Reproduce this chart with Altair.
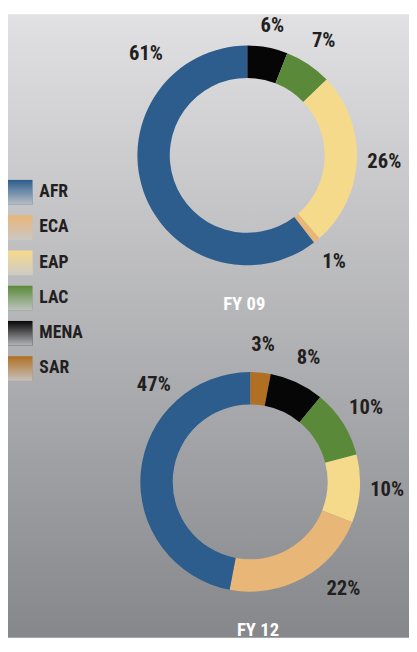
import math
import altair as alt
import pandas as pd

# ---- data ----
categories = ["AFR", "ECA", "EAP", "LAC", "MENA", "SAR"]
colors = ["#2c5d8c", "#e8b677", "#f6da8b", "#5a8a39", "#060606", "#b06f22"]
fy09_values = [61, 1, 26, 7, 6, 0]
fy12_values = [47, 22, 10, 10, 8, 3]
years = ["FY 09", "FY 12"]

# ---- layout ----
W, H = 409, 636
OUTER, INNER = 112, 79
LABEL_R = 140
CENTERS = {"FY 09": (244, 144), "FY 12": (247, 477)}
TITLE_POS = {"FY 09": (241, 296), "FY 12": (255, 628)}
# label placements that differ from the slice middle: (angle in degrees, radius)
LABEL_ADJUST = {
    ("FY 09", "AFR"): (315, 146),
    ("FY 09", "MENA"): (11, 134),
    ("FY 12", "AFR"): (315, 139),
    ("FY 12", "ECA"): (139, 145),
}
FONT = "Roboto Condensed, DejaVu Sans Condensed, sans-serif"

# slice order clockwise from 12 o'clock: SAR, MENA, LAC, EAP, ECA, AFR
order_key = {c: len(categories) - 1 - i for i, c in enumerate(categories)}


def frame(yr, values):
    df = pd.DataFrame({"cat": categories, "value": values})
    df["ord"] = df["cat"].map(order_key)
    df = df.sort_values("ord").reset_index(drop=True)
    total = df["value"].sum()
    cum = df["value"].cumsum() - df["value"] / 2
    df["ang"] = cum / total * 360
    df["r"] = LABEL_R
    for i, c in enumerate(df["cat"]):
        if (yr, c) in LABEL_ADJUST:
            a, r = LABEL_ADJUST[(yr, c)]
            df.loc[i, "ang"] = a
            df.loc[i, "r"] = r
    df["lab"] = df["value"].astype(str) + "%"
    return df


bg = alt.Chart(pd.DataFrame({"a": [0]})).mark_rect(
    fill=alt.Gradient(
        gradient="linear",
        stops=[
            alt.GradientStop(offset=0, color="#e1e1e3"),
            alt.GradientStop(offset=1, color="#86878b"),
        ],
        x1=0, x2=0, y1=0, y2=1,
    )
).encode(x=alt.value(0), x2=alt.value(W), y=alt.value(0), y2=alt.value(H))

color_scale = alt.Scale(domain=categories, range=colors)

layers = [bg]
for yr, vals in zip(years, [fy09_values, fy12_values]):
    df = frame(yr, vals)
    cx, cy = CENTERS[yr]
    arc = alt.Chart(df).mark_arc(outerRadius=OUTER, innerRadius=INNER).encode(
        theta=alt.Theta("value:Q", stack=True),
        color=alt.Color("cat:N", scale=color_scale, legend=None),
        order=alt.Order("ord:Q"),
        x=alt.value(cx),
        y=alt.value(cy),
    )
    lab = alt.Chart(df[df["value"] > 0]).mark_text(
        font=FONT, fontSize=21, fontWeight="bold", color="#231f20",
        align="center", baseline="middle",
    ).encode(
        theta=alt.Theta("ang:Q", scale=alt.Scale(domain=[0, 360], range=[0, 2 * math.pi])),
        radius=alt.Radius("r:Q", scale=alt.Scale(type="linear", domain=[0, 200], range=[0, 200])),
        text="lab:N",
        x=alt.value(cx),
        y=alt.value(cy),
    )
    tx, ty = TITLE_POS[yr]
    title = alt.Chart(pd.DataFrame({"t": [yr]})).mark_text(
        font=FONT, fontSize=19, fontWeight="bold", color="white",
        align="center", baseline="middle",
    ).encode(text="t:N", x=alt.value(tx), y=alt.value(ty))
    layers += [arc, lab, title]

leg_df = pd.DataFrame({"cat": categories})
ly = alt.Y("cat:N", sort=categories,
           scale=alt.Scale(domain=categories, range=[169, 374], paddingInner=0.3, paddingOuter=0),
           axis=None)
leg_rect = alt.Chart(leg_df).mark_rect().encode(
    y=ly, x=alt.value(0), x2=alt.value(25),
    color=alt.Color("cat:N", scale=color_scale, legend=None),
)
leg_fade = alt.Chart(leg_df).mark_rect(
    fill=alt.Gradient(
        gradient="linear",
        stops=[
            alt.GradientStop(offset=0, color="rgba(200,201,205,0)"),
            alt.GradientStop(offset=1, color="rgba(200,201,205,0.9)"),
        ],
        x1=0, x2=0, y1=0, y2=1,
    )
).encode(y=ly, x=alt.value(0), x2=alt.value(25))
leg_text = alt.Chart(leg_df).mark_text(
    font=FONT, fontSize=18, fontWeight="bold", color="#231f20", align="left", baseline="middle",
).encode(y=ly, x=alt.value(32), text="cat:N")
layers += [leg_rect, leg_fade, leg_text]

chart = alt.layer(*layers).resolve_scale(theta="independent").properties(
    width=W, height=H, padding=0, autosize=alt.AutoSizeParams(type="none")
).configure_view(stroke=None)

chart.save("out.html", embed_options={"renderer": "svg", "actions": False})
